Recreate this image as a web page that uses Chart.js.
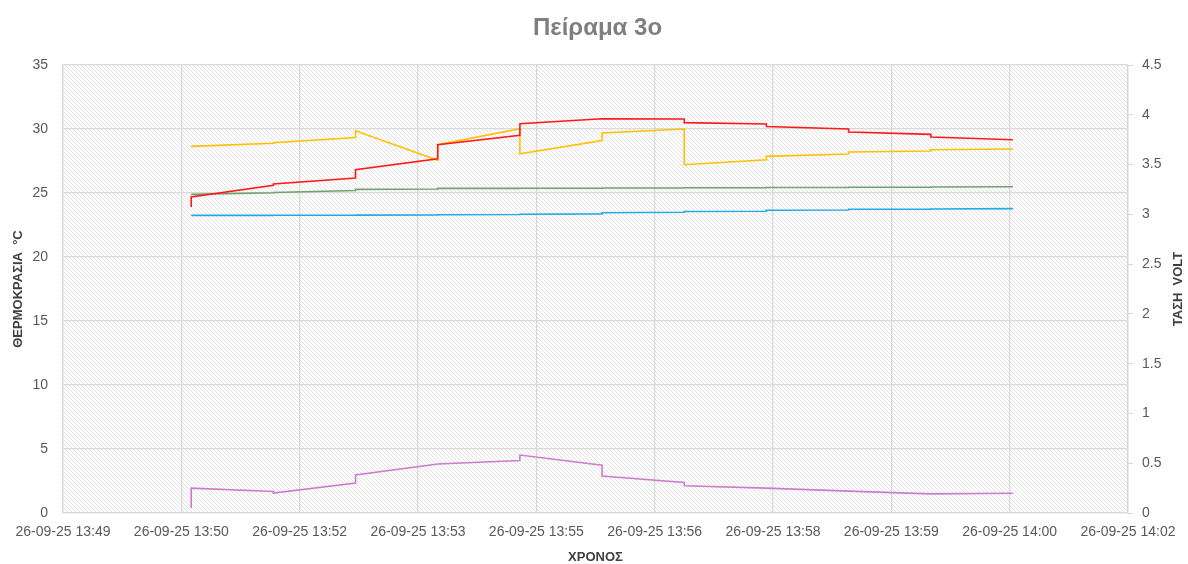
<!DOCTYPE html>
<html lang="el">
<head>
<meta charset="utf-8">
<title>Πείραμα 3ο</title>
<script src="https://cdn.jsdelivr.net/npm/chart.js@4.4.1/dist/chart.umd.min.js"></script>
<style>
  html, body { margin: 0; padding: 0; background: #ffffff; }
  #wrap { width: 1188px; height: 564px; position: relative; }
</style>
</head>
<body>
<div id="wrap"><canvas id="expChart"></canvas></div>
<script>
// Reading times, minutes after 13:49:00
const sampleMinutes = [2, 3, 4, 5, 6, 7, 8, 9, 10, 11, 12];

// Every reading has a value on arrival and the value right after the update step
const redBefore    = [23.90, 25.60, 26.17, 27.68, 29.50, 30.80, 30.78, 30.39, 30.00, 29.58, 29.16];
const redAfter     = [24.69, 25.70, 26.82, 28.77, 30.41, 30.80, 30.50, 30.20, 29.77, 29.37, 29.16];
const yellowBefore = [28.64, 28.88, 29.34, 27.55, 30.02, 29.09, 30.00, 27.60, 28.05, 28.28, 28.44];
const yellowAfter  = [28.64, 28.93, 29.86, 28.77, 28.07, 29.69, 27.21, 27.86, 28.20, 28.38, 28.44];
const greenBefore  = [24.89, 25.02, 25.20, 25.31, 25.36, 25.38, 25.40, 25.42, 25.44, 25.46, 25.49];
const greenAfter   = [24.89, 25.04, 25.28, 25.36, 25.37, 25.39, 25.41, 25.43, 25.45, 25.47, 25.49];
const blueBefore   = [23.25, 23.25, 23.26, 23.28, 23.32, 23.37, 23.50, 23.58, 23.67, 23.74, 23.78];
const blueAfter    = [23.25, 23.26, 23.27, 23.30, 23.34, 23.46, 23.56, 23.65, 23.73, 23.75, 23.78];
// voltage (right axis)
const voltBefore   = [0.050, 0.217, 0.300, 0.492, 0.528, 0.480, 0.307, 0.250, 0.220, 0.192, 0.198];
const voltAfter    = [0.250, 0.200, 0.382, 0.492, 0.582, 0.372, 0.274, 0.250, 0.220, 0.192, 0.198];

// X axis ticks
const tickLabels = [
    '26-09-25 13:49', '26-09-25 13:50', '26-09-25 13:52', '26-09-25 13:53', '26-09-25 13:55',
    '26-09-25 13:56', '26-09-25 13:58', '26-09-25 13:59', '26-09-25 14:00', '26-09-25 14:02'
];
const axisStart = 0.44;   // 13:49:26
const axisStep = 1.44;    // minutes between ticks

const tempTicks = [0, 5, 10, 15, 20, 25, 30, 35];
const voltTicks = [0, 0.5, 1, 1.5, 2, 2.5, 3, 3.5, 4, 4.5];

/* ---------------------------
   HELPERS
---------------------------*/
function buildPoints(before, after) {
    const pts = [];
    sampleMinutes.forEach((t, i) => {
        pts.push({ x: t, y: before[i] });
        if (after[i] !== before[i]) pts.push({ x: t, y: after[i] });
    });
    return pts;
}

function lineSet(label, before, after, color, axis) {
    return {
        label: label,
        data: buildPoints(before, after),
        borderColor: color,
        backgroundColor: color,
        borderWidth: 1.6,
        pointRadius: 0,
        showLine: true,
        tension: 0,
        yAxisID: axis
    };
}

// diagonal hatch used as plot background
function makeHatch() {
    const tile = document.createElement('canvas');
    tile.width = 4;
    tile.height = 4;
    const c = tile.getContext('2d');
    c.fillStyle = '#ffffff';
    c.fillRect(0, 0, 4, 4);
    c.fillStyle = '#e2e2e2';
    for (let i = 0; i < 4; i++) c.fillRect(i, i, 1, 1);
    return tile;
}

const hatchTile = makeHatch();

const chartDecor = {
    id: 'chartDecor',
    beforeDraw(chart) {
        const { ctx, chartArea: a } = chart;
        ctx.save();
        ctx.fillStyle = ctx.createPattern(hatchTile, 'repeat');
        ctx.fillRect(a.left, a.top, a.right - a.left, a.bottom - a.top);
        ctx.restore();
    },
    afterDraw(chart) {
        const { ctx, chartArea: a } = chart;
        const midX = (a.left + a.right) / 2;
        const midY = (a.top + a.bottom) / 2;
        ctx.save();
        ctx.textAlign = 'center';
        ctx.textBaseline = 'middle';

        ctx.fillStyle = '#7f7f7f';
        ctx.font = 'bold 24px "Liberation Sans", Arial, sans-serif';
        ctx.fillText('Πείραμα 3ο', midX + 2, 28);

        ctx.fillStyle = '#404040';
        ctx.font = 'bold 13px "Liberation Sans", Arial, sans-serif';
        ctx.fillText('ΧΡΟΝΟΣ', midX, 557);

        ctx.save();
        ctx.translate(18, midY);
        ctx.rotate(-Math.PI / 2);
        ctx.fillText('ΘΕΡΜΟΚΡΑΣΙΑ  °C', 0, 0);
        ctx.restore();

        ctx.save();
        ctx.translate(1178, midY);
        ctx.rotate(-Math.PI / 2);
        ctx.fillText('ΤΑΣΗ  VOLT', 0, 0);
        ctx.restore();

        ctx.restore();
    }
};

/* ---------------------------
   CHART
---------------------------*/
const gridColor = '#d9d9d9';
const tickColor = '#595959';
const tickFont = { family: '"Liberation Sans", Arial, sans-serif', size: 14 };

new Chart(document.getElementById('expChart'), {
    type: 'scatter',
    data: {
        datasets: [
            lineSet('Θ1', redBefore, redAfter, '#ff1a1a', 'y'),
            lineSet('Θ2', yellowBefore, yellowAfter, '#ffc000', 'y'),
            lineSet('Θ3', greenBefore, greenAfter, '#72a172', 'y'),
            lineSet('Θ4', blueBefore, blueAfter, '#22a9e6', 'y'),
            lineSet('V', voltBefore, voltAfter, '#cc7ccc', 'y1')
        ]
    },
    options: {
        responsive: true,
        maintainAspectRatio: false,
        animation: false,
        layout: { padding: { top: 65, left: 0, right: 0, bottom: 0 } },
        plugins: {
            legend: { display: false },
            tooltip: { enabled: false },
            title: { display: false }
        },
        scales: {
            x: {
                type: 'linear',
                min: axisStart,
                max: axisStart + axisStep * (tickLabels.length - 1),
                afterBuildTicks: scale => {
                    scale.ticks = tickLabels.map((_, i) => ({ value: axisStart + i * axisStep }));
                },
                afterFit: scale => { scale.height = 51; },
                grid: { color: gridColor, lineWidth: 1.3, drawTicks: false },
                border: { color: gridColor, width: 1.3 },
                ticks: {
                    color: tickColor,
                    font: tickFont,
                    padding: 11,
                    maxRotation: 0,
                    autoSkip: false,
                    callback: (v, i) => tickLabels[i]
                }
            },
            y: {
                position: 'left',
                min: tempTicks[0],
                max: tempTicks[tempTicks.length - 1],
                afterBuildTicks: scale => {
                    scale.ticks = tempTicks.map(v => ({ value: v }));
                },
                afterFit: scale => { scale.width = 63; },
                grid: { color: gridColor, lineWidth: 1.3, drawTicks: false },
                border: { color: gridColor, width: 1.3 },
                ticks: { color: tickColor, font: tickFont, padding: 15, callback: v => String(v) }
            },
            y1: {
                position: 'right',
                min: voltTicks[0],
                max: voltTicks[voltTicks.length - 1],
                afterBuildTicks: scale => {
                    scale.ticks = voltTicks.map(v => ({ value: v }));
                },
                afterFit: scale => { scale.width = 60; },
                grid: { drawOnChartArea: false, color: gridColor, tickLength: 5 },
                border: { color: gridColor, width: 1.3 },
                ticks: { color: tickColor, font: tickFont, padding: 9, callback: v => String(v) }
            }
        }
    },
    plugins: [chartDecor]
});
</script>
</body>
</html>
